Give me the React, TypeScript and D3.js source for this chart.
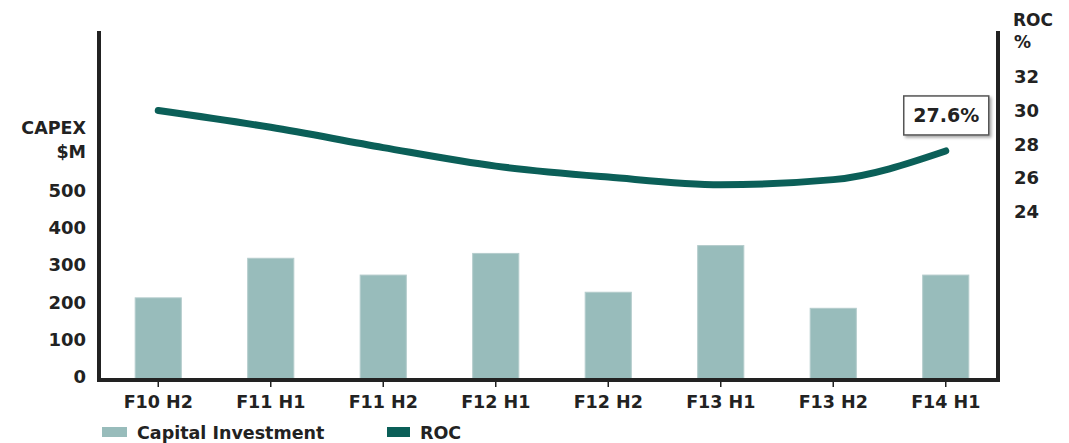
import React from "react";
import * as d3 from "d3";

const categories = ["F10 H2", "F11 H1", "F11 H2", "F12 H1", "F12 H2", "F13 H1", "F13 H2", "F14 H1"];
const capex = [220, 326, 281, 339, 235, 360, 192, 281];
const roc = [30.0, 29.0, 27.8, 26.7, 26.05, 25.6, 25.9, 27.6];
const leftTicks = [0, 100, 200, 300, 400, 500];
const rightTicks = [24, 26, 28, 30, 32];
const legendItems = [
  { label: "Capital Investment", color: "#98bcbb" },
  { label: "ROC", color: "#0b5f58" },
];
const calloutLabel = "27.6%";

const W = 1069;
const H = 443;
const FONT = "'DejaVu Sans', sans-serif";
const INK = "#222";

export default function App() {
  const x = d3.scaleBand<string>().domain(categories).range([102, 1002]).paddingInner(0.59).paddingOuter(0.295);
  const yL = d3.scaleLinear().domain([0, 500]).range([380, 193.3]);
  const yR = d3.scaleLinear().domain([24, 32]).range([211.7, 76.7]);
  const cx = (c: string) => (x(c) as number) + x.bandwidth() / 2;

  const line = d3
    .line<number>()
    .x((_, i) => cx(categories[i]))
    .y((d) => yR(d))
    .curve(d3.curveMonotoneX);

  const lastI = roc.length - 1;
  const lastX = cx(categories[lastI]);
  const lastY = yR(roc[lastI]);

  return (
    <svg width={W} height={H} style={{ position: "absolute", left: 0, top: 0 }} fontFamily={FONT}>
      <defs>
        <filter id="sh" x="-20%" y="-20%" width="150%" height="160%">
          <feDropShadow dx="2" dy="2" stdDeviation="1.5" floodColor="#000" floodOpacity="0.35" />
        </filter>
      </defs>
      <rect width={W} height={H} fill="#fff" />

      {/* bars */}
      {capex.map((v, i) => (
        <rect
          key={categories[i]}
          x={x(categories[i])}
          y={yL(v)}
          width={x.bandwidth()}
          height={yL(0) - yL(v)}
          fill="#98bcbb"
          stroke="#b4cccc"
          strokeWidth={1}
        />
      ))}

      {/* axes */}
      <line x1={99} x2={99} y1={31} y2={382} stroke={INK} strokeWidth={4} />
      <line x1={998} x2={998} y1={31} y2={382} stroke={INK} strokeWidth={4} />
      <line x1={97} x2={1000} y1={380} y2={380} stroke={INK} strokeWidth={4} />

      {categories.map((c) => (
        <g key={c}>
          <line x1={cx(c)} x2={cx(c)} y1={382} y2={387} stroke={INK} strokeWidth={1.5} />
          <text x={cx(c)} y={408} textAnchor="middle" fontSize={17.5} fontWeight="bold" fill={INK}>
            {c}
          </text>
        </g>
      ))}

      {leftTicks.map((t) => (
        <text key={t} x={86} y={yL(t) - 3} dy="0.36em" textAnchor="end" fontSize={18} fontWeight="bold" fill={INK}>
          {t}
        </text>
      ))}
      <text x={86} y={128} dy="0.36em" textAnchor="end" fontSize={17.5} fontWeight="bold" fill={INK}>
        CAPEX
      </text>
      <text x={86} y={152} dy="0.36em" textAnchor="end" fontSize={17.5} fontWeight="bold" fill={INK}>
        $M
      </text>

      {rightTicks.map((t) => (
        <text key={t} x={1014} y={yR(t)} dy="0.36em" textAnchor="start" fontSize={18} fontWeight="bold" fill={INK}>
          {t}
        </text>
      ))}
      <text x={1013} y={20} dy="0.36em" fontSize={17} fontWeight="bold" fill={INK}>
        ROC
      </text>
      <text x={1014} y={42} dy="0.36em" fontSize={17} fontWeight="bold" fill={INK}>
        %
      </text>

      {/* ROC line */}
      <path d={line(roc) || ""} fill="none" stroke="#0b5f58" strokeWidth={7} strokeLinecap="round" />

      {/* callout */}
      <g filter="url(#sh)">
        <rect x={lastX - 42} y={lastY - 55} width={85} height={39} fill="#fff" stroke="#555" strokeWidth={1.5} />
      </g>
      <text x={lastX + 0.5} y={lastY - 35.5} dy="0.36em" textAnchor="middle" fontSize={19} fontWeight="bold" fill={INK}>
        {calloutLabel}
      </text>

      {/* legend */}
      {legendItems.map((it, i) => {
        const lx = i === 0 ? 102 : 387;
        return (
          <g key={it.label}>
            <rect x={lx} y={427} width={i === 0 ? 25 : 23} height={10} fill={it.color} />
            <text x={lx + (i === 0 ? 35 : 33)} y={439} fontSize={17.5} fontWeight="bold" fill={INK}>
              {it.label}
            </text>
          </g>
        );
      })}
    </svg>
  );
}
